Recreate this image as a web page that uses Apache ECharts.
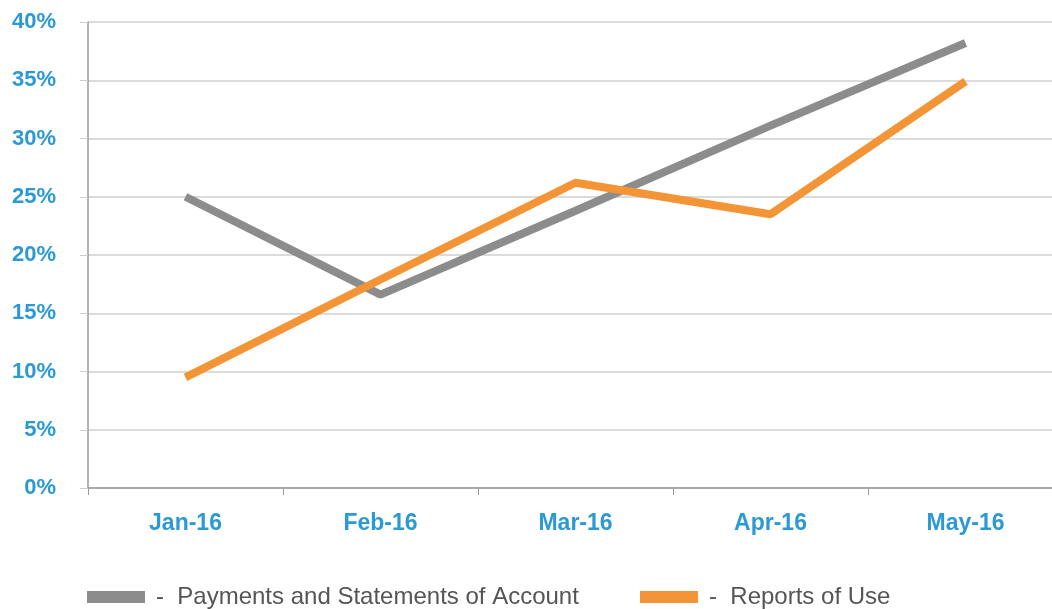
<!DOCTYPE html>
<html>
<head>
<meta charset="utf-8">
<script src="https://cdn.jsdelivr.net/npm/echarts@6/dist/echarts.min.js"></script>
<style>
  html, body { margin: 0; padding: 0; background: #fff; }
  #chart { width: 1052px; height: 609px; }
</style>
</head>
<body>
<div id="chart"></div>
<script>
const months = ["Jan-16", "Feb-16", "Mar-16", "Apr-16", "May-16"];
const payments = [25, 16.6, 23.8, 31.1, 38.2];
const reports = [9.5, 17.9, 26.2, 23.5, 34.9];
const seriesNames = ["Payments and Statements of Account", "Reports of Use"];

const blue = "#2b9ad4";
const chart = echarts.init(document.getElementById("chart"));

const legendBase = {
  top: 580,
  itemWidth: 58,
  itemHeight: 12,
  icon: "rect",
  textStyle: { color: "#555", fontSize: 24, fontFamily: "Liberation Sans", padding: [0, 0, 0, 6] },
  formatter: name => "-  " + name
};

const option = {
  animation: false,
  grid: { left: 88, right: -11, top: 22, bottom: 121, outerBoundsMode: "none" },
  legend: [
    Object.assign({}, legendBase, { left: 82, data: [seriesNames[0]] }),
    Object.assign({}, legendBase, { left: 635, data: [seriesNames[1]] })
  ],
  xAxis: {
    type: "category",
    data: months,
    boundaryGap: true,
    axisLine: { lineStyle: { color: "#999", width: 1.5 } },
    axisTick: { show: true, length: 7, lineStyle: { color: "#999" } },
    axisLabel: { color: blue, fontSize: 23, fontWeight: "bold", fontFamily: "Liberation Sans", margin: 24 }
  },
  yAxis: {
    type: "value",
    min: 0,
    max: 40,
    interval: 5,
    axisLine: { show: true, lineStyle: { color: "#999", width: 1.5 } },
    axisTick: { show: true, length: 8, lineStyle: { color: "#ccc" } },
    splitLine: { lineStyle: { color: "#cfcfcf", width: 1.5 } },
    axisLabel: {
      color: blue, fontSize: 22, fontWeight: "bold", fontFamily: "Liberation Sans",
      margin: 32, formatter: v => v + "%"
    }
  },
  series: [
    {
      name: seriesNames[0],
      type: "line",
      data: payments,
      symbol: "none",
      itemStyle: { color: "#8c8c8c" },
      lineStyle: { color: "#8c8c8c", width: 8, cap: "butt" }
    },
    {
      name: seriesNames[1],
      type: "line",
      data: reports,
      symbol: "none",
      itemStyle: { color: "#f39436" },
      lineStyle: { color: "#f39436", width: 8, cap: "butt" }
    }
  ]
};
chart.setOption(option);
</script>
</body>
</html>
